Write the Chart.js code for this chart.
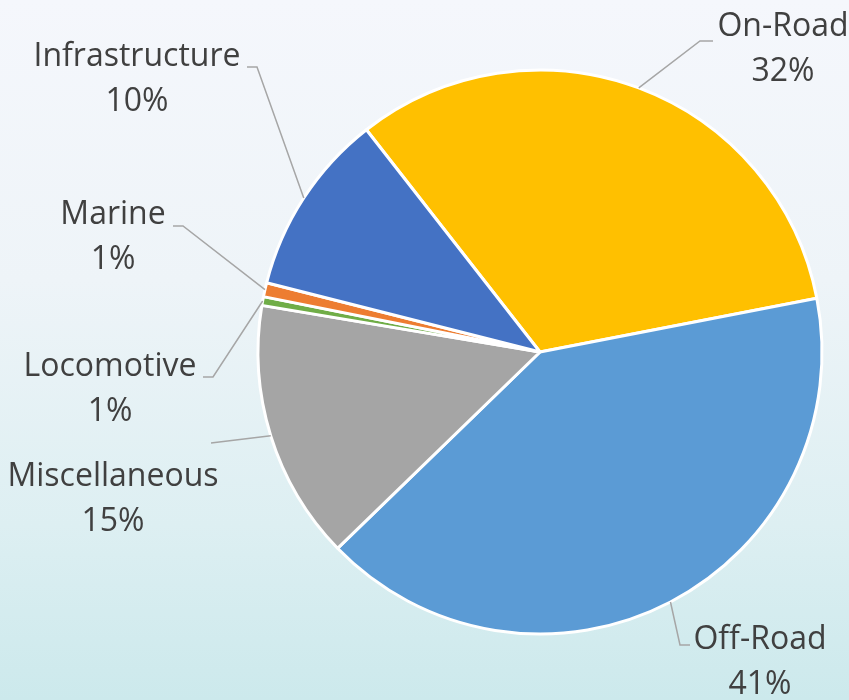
<!DOCTYPE html>
<html>
<head>
<meta charset="utf-8">
<script src="https://cdn.jsdelivr.net/npm/chart.js@4"></script>
<style>
  html, body { margin: 0; padding: 0; }
  body {
    width: 849px; height: 700px; overflow: hidden;
    background: linear-gradient(to bottom, #f5f7fc 0%, #eef4f8 40%, #ddeff2 75%, #cce9ec 100%);
  }
  #wrap { position: relative; width: 849px; height: 700px; }
</style>
</head>
<body>
<div id="wrap"><canvas id="pie" width="849" height="700"></canvas></div>
<script>
// share of total
const categories = ['On-Road', 'Off-Road', 'Miscellaneous', 'Locomotive', 'Marine', 'Infrastructure'];
const shares = [32.5, 40.8, 14.9, 0.5, 0.8, 10.5];
const pctLabels = ['32%', '41%', '15%', '1%', '1%', '10%'];
const colors = ['#FFC000', '#5B9BD5', '#A5A5A5', '#70AD47', '#ED7D31', '#4472C4'];

// where each label sits: text centre, first line y, end of leader line and elbow
const labelLayout = [
  { x: 783, y: 27, ex: 713, ey: 41, bx: 700 },   // On-Road
  { x: 760, y: 640, ex: 690, ey: 645, bx: 680 }, // Off-Road
  { x: 113, y: 477, ex: 211, ey: 443, bx: 211 }, // Miscellaneous
  { x: 110, y: 367, ex: 203, ey: 377, bx: 213 }, // Locomotive
  { x: 113, y: 215, ex: 173, ey: 226, bx: 183 }, // Marine
  { x: 137, y: 57, ex: 247, ey: 67, bx: 257 }    // Infrastructure
];

const outsideLabels = {
  id: 'outsideLabels',
  afterDatasetsDraw(chart) {
    const ctx = chart.ctx;
    const meta = chart.getDatasetMeta(0);
    ctx.save();
    meta.data.forEach((arc, i) => {
      const p = arc.getProps(['x', 'y', 'startAngle', 'endAngle', 'outerRadius'], true);
      const mid = (p.startAngle + p.endAngle) / 2;
      const sx = p.x + Math.cos(mid) * p.outerRadius;
      const sy = p.y + Math.sin(mid) * p.outerRadius;
      const l = labelLayout[i];
      ctx.strokeStyle = '#a6a6a6';
      ctx.lineWidth = 1.5;
      ctx.beginPath();
      ctx.moveTo(sx, sy);
      ctx.lineTo(l.bx, l.ey);
      ctx.lineTo(l.ex, l.ey);
      ctx.stroke();

      ctx.fillStyle = '#404040';
      ctx.font = '32px "Open Sans", sans-serif';
      ctx.textAlign = 'center';
      ctx.textBaseline = 'middle';
      ctx.fillText(categories[i], l.x, l.y);
      ctx.fillText(pctLabels[i], l.x, l.y + 45);
    });
    ctx.restore();
  }
};

new Chart(document.getElementById('pie'), {
  type: 'pie',
  data: {
    labels: categories,
    datasets: [{
      data: shares,
      backgroundColor: colors,
      borderColor: '#ffffff',
      borderWidth: 3
    }]
  },
  options: {
    responsive: false,
    animation: false,
    rotation: -38,
    radius: 282,
    layout: { padding: { left: 258, right: 27, top: 70, bottom: 66 } },
    plugins: {
      legend: { display: false },
      tooltip: { enabled: false },
      title: { display: false }
    }
  },
  plugins: [outsideLabels]
});
</script>
</body>
</html>
